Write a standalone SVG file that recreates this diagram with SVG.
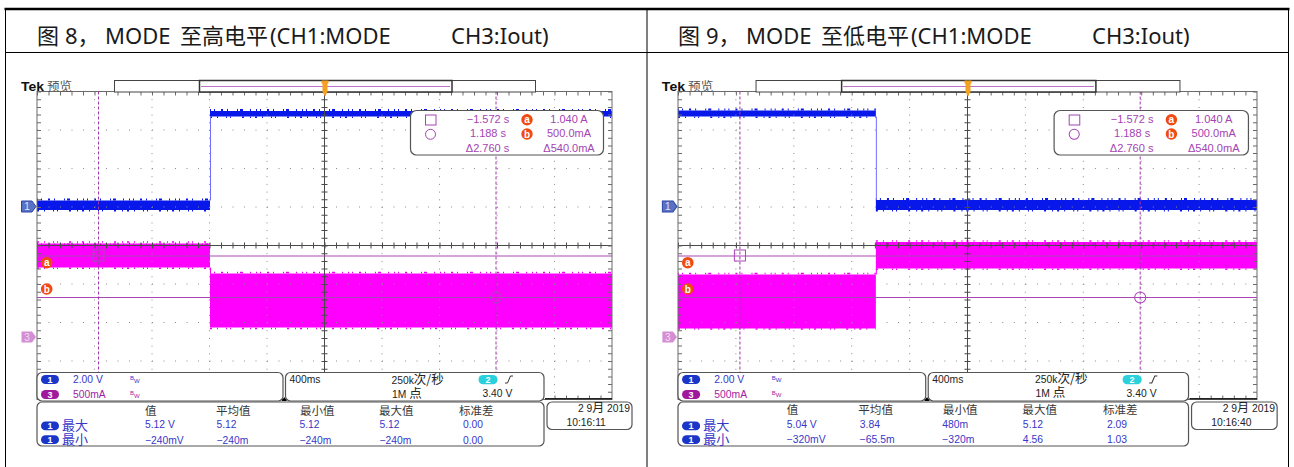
<svg xmlns="http://www.w3.org/2000/svg" width="1294" height="467" viewBox="0 0 1294 467">
<style>
.tl{font-family:'Noto Sans','Noto Sans CJK SC',sans-serif;font-size:22px;fill:#1a1a1a}
.s{font-family:'Liberation Sans','Noto Sans CJK SC',sans-serif}
.c{font-family:'Noto Sans CJK SC',sans-serif}
.cur{font-size:11px;fill:#a444b4;text-anchor:middle}
.ro{font-size:10.3px}
.bl{fill:#3737c8}
.pu{fill:#a21ca2}
.bk{fill:#222}
.hd{font-size:11.5px;fill:#383838}
.lb{font-size:13px;fill:#3737c8}
.bx{fill:#fff;stroke:#555;stroke-width:1.2}
.tb{stroke:#000;stroke-width:1;fill:none}
.c1{fill:#0818ea}
.c1n{stroke:#0818ea;fill:none}
.c3{fill:#ff00ff}
.c3n{stroke:#f000f0;fill:none}
.c3d{stroke:#c800cc;fill:none}
.nzA{stroke-dasharray:1 3 1 6 2 4 1 9 1 2 3 7 1 5}
.nzB{stroke-dasharray:2 5 1 8 1 3 1 11 2 6 1 4}
.cl{stroke:#a848b4;stroke-width:1;fill:none}
.cd{stroke:#a434ac;stroke-width:1;stroke-dasharray:3 2;fill:none}
.bd{fill:#f04a12}
.bt{font-family:'Liberation Sans',sans-serif;font-weight:bold;font-size:10px;fill:#fff;text-anchor:middle}
.pt{font-family:'Liberation Sans',sans-serif;font-weight:bold;font-size:9px;fill:#fff;text-anchor:middle}
.bw{font-size:6px}
</style>
<defs>
<g id="grat" fill="none">
 <path stroke="#8c8c8c" stroke-dasharray="1 6.7" d="M94.5 91.5V399.5M152 91.5V399.5M209.5 91.5V399.5M267 91.5V399.5M382 91.5V399.5M439.5 91.5V399.5M497 91.5V399.5M554.5 91.5V399.5"/>
 <path stroke="#8c8c8c" stroke-dasharray="1 10.5" d="M37 130H612M37 168.5H612M37 207H612M37 284H612M37 322.5H612M37 361H612"/>
 <path stroke="#4a4a4a" d="M324.5 91.5V399.5M37 245.5H612"/>
 <path stroke="#4a4a4a" stroke-width="6" stroke-dasharray="1 6.7" d="M324.5 91.5V399.5"/>
 <path stroke="#4a4a4a" stroke-width="6" stroke-dasharray="1 10.5" d="M37 245.5H612"/>
 <rect x="37" y="91.5" width="575" height="308" stroke="#6a6a6a"/>
 <path stroke="#6a6a6a" stroke-width="4" stroke-dasharray="1 6.7" d="M39 91.5V399.5M610 91.5V399.5"/>
 <path stroke="#6a6a6a" stroke-width="4" stroke-dasharray="1 10.5" d="M37 93.5H612M37 397.5H612"/>
</g>
<g id="ovl">
 <path class="cl" d="M37 256H612M37 297.5H612"/>
 <path class="cd" d="M98.5 91.5V399.5M496 91.5V399.5"/>
 <rect class="cl" x="93" y="250" width="11" height="11"/>
 <circle class="cl" cx="496" cy="297.5" r="5.5"/>
 <circle class="bd" cx="46.7" cy="262.7" r="5.8"/><text class="bt" x="46.7" y="266.3">a</text>
 <circle class="bd" cx="46.7" cy="289" r="5.8"/><text class="bt" x="46.7" y="292.6">b</text>
 <path d="M21.5 201h10.5l4 5.5-4 5.5h-10.5z" fill="#5a72c4" stroke="#2c44a8"/>
 <text class="s" x="27" y="210.3" font-size="10" fill="#dde3ff" text-anchor="middle">1</text>
 <path d="M21.5 331.5h10.5l4 5.5-4 5.5h-10.5z" fill="#d48ed4"/>
 <text class="s" x="27" y="340.8" font-size="10" fill="#f5dcf5" text-anchor="middle">3</text>
 <rect x="114.5" y="80.5" width="421" height="11.5" fill="#fff" stroke="#444"/>
 <rect x="199.5" y="80.5" width="252.5" height="11.5" fill="#fff" stroke="#333" stroke-width="1.5"/>
 <path d="M201 86.5H450" stroke="#c070c8" stroke-width="1.2"/>
 <path d="M321.5 80.5h7v2.5l-1 1v8l-2.5 4.5l-2.5-4.5v-8l-1-1z" fill="#f4a020"/>
 <text class="s" x="21" y="91" font-size="13" font-weight="bold" fill="#111" textLength="23" lengthAdjust="spacingAndGlyphs">Tek</text>
 <text class="c" x="47" y="91" font-size="12.5" fill="#555">预览</text>
 <rect class="bx" x="410.5" y="110.5" width="193" height="44.5" rx="6"/>
 <rect x="425.5" y="115" width="10.5" height="10" fill="none" stroke="#a444b4"/>
 <circle cx="430.5" cy="134.3" r="5" fill="none" stroke="#a444b4"/>
 <text class="s cur" x="488" y="123.3">−1.572 s</text>
 <text class="s cur" x="488" y="137.3">1.188 s</text>
 <text class="s cur" x="487.5" y="152">Δ2.760 s</text>
 <circle class="bd" cx="527" cy="119.8" r="5.7"/><text class="bt" x="527" y="123.4">a</text>
 <circle class="bd" cx="527" cy="134" r="5.7"/><text class="bt" x="527" y="137.6">b</text>
 <text class="s cur" x="569" y="123.3">1.040 A</text>
 <text class="s cur" x="569" y="137.3">500.0mA</text>
 <text class="s cur" x="569" y="152">Δ540.0mA</text>
 <path d="M545 398.8H612" stroke="#222" stroke-width="1.6"/>
 <rect class="bx" x="37" y="372.5" width="246" height="28.5" rx="5"/>
 <rect class="bx" x="285.5" y="372.5" width="258.5" height="28.5" rx="5"/>
 <path d="M281.5 401L284.3 397L287 401z" fill="#000"/>
 <rect class="bx" x="37" y="402" width="507" height="44" rx="5"/>
 <rect class="bx" x="547" y="402" width="85" height="27.5" rx="5"/>
 <rect x="41" y="375" width="18" height="9" rx="4.5" fill="#1a36c8"/><text class="pt" x="50" y="382.8">1</text>
 <text class="s ro bl" x="73" y="383.3">2.00 V</text>
 <text class="s bw bl" x="130" y="380">B<tspan dy="2.5">W</tspan></text>
 <rect x="41" y="390" width="18" height="9" rx="4.5" fill="#a0189c"/><text class="pt" x="50" y="397.8">3</text>
 <text class="s ro pu" x="73" y="398">500mA</text>
 <text class="s bw pu" x="130" y="395">B<tspan dy="2.5">W</tspan></text>
 <text class="s ro bk" x="289.5" y="383.3">400ms</text>
 <text class="s ro bk" x="391.5" y="383.5">250k<tspan class="c" font-size="12.5">次/秒</tspan></text>
 <text class="s ro bk" x="392" y="397.5">1M <tspan class="c" font-size="12.5">点</tspan></text>
 <rect x="478.5" y="375" width="19" height="9.3" rx="4.6" fill="#2ad0dc"/><text class="pt" x="488" y="383">2</text>
 <polyline points="505,383 507.5,383 510.5,376 513,376" fill="none" stroke="#333"/>
 <text class="s ro bk" x="482.5" y="397.3">3.40 V</text>
 <text class="c hd" x="145" y="414.5">值</text>
 <text class="c hd" x="216" y="414.5">平均值</text>
 <text class="c hd" x="300" y="414.5">最小值</text>
 <text class="c hd" x="379" y="414.5">最大值</text>
 <text class="c hd" x="459" y="414.5">标准差</text>
 <rect x="41" y="421.5" width="18" height="8.8" rx="4.4" fill="#1a36c8"/><text class="pt" x="50" y="429.2">1</text>
 <text class="c lb" x="62" y="429.8">最大</text>
 <rect x="41" y="435.3" width="18" height="8.8" rx="4.4" fill="#1a36c8"/><text class="pt" x="50" y="443">1</text>
 <text class="c lb" x="62" y="444.3">最小</text>
 <text class="s ro bk" x="630" y="412" text-anchor="end">2 9<tspan class="c" font-size="12">月</tspan> 2019</text>
</g>
</defs>
<rect x="0" y="0" width="1294" height="467" fill="#fff"/>
<g id="table">
 <path class="tb" d="M5.5 9V467M647 9V467M1288.5 9V467M5.5 52.5H1288.5"/>
 <path d="M4.5 9H1289.5" stroke="#000" stroke-width="2.5"/>
 <text class="tl" y="43.5"><tspan x="37">图 </tspan><tspan x="65">8，</tspan><tspan x="105">MODE </tspan><tspan x="180">至高电平</tspan><tspan x="270">(CH1:MODE </tspan><tspan x="451">CH3:Iout)</tspan></text>
 <text class="tl" y="43.5"><tspan x="678">图 </tspan><tspan x="706">9，</tspan><tspan x="746">MODE </tspan><tspan x="821">至低电平</tspan><tspan x="911">(CH1:MODE </tspan><tspan x="1092">CH3:Iout)</tspan></text>
</g>
<g id="scope-left">
 <g id="traces-left">
  <rect class="c1" x="37" y="200.5" width="173" height="9.5"/>
  <path class="c1n nzA" stroke-width="2" d="M37 199.5H210"/>
  <path class="c1n nzB" stroke-width="1.5" d="M37 210.8H210"/>
  <rect class="c1" x="210" y="111" width="402" height="5.5"/>
  <path class="c1n nzA" stroke-width="2" d="M210 110H612"/>
  <path class="c1n nzB" stroke-width="1.5" d="M210 117.3H612"/>
  <path d="M210.5 116.5V200.5" stroke="#7070ff"/>
  <rect class="c3" x="37" y="243.5" width="173" height="24"/>
  <path class="c3d nzA" stroke-width="2" d="M37 244.5H210"/>
  <path class="c3n nzB" stroke-width="1.5" d="M37 242H210M37 268.3H210"/>
  <rect class="c3" x="210" y="273.5" width="402" height="54"/>
  <path class="c3n nzA" stroke-width="1.5" d="M210 272.5H612"/>
  <path class="c3n nzB" stroke-width="1.5" d="M210 328.5H612"/>
  <path d="M210.5 267.5V273.5" stroke="#ff00ff"/>
 </g>
 <use href="#grat"/>
 <use href="#ovl"/>
 <g id="values-left">
  <text class="s ro bl" x="145" y="428.3">5.12 V</text>
  <text class="s ro bl" x="216.5" y="428.3">5.12</text>
  <text class="s ro bl" x="299.5" y="428.3">5.12</text>
  <text class="s ro bl" x="379.5" y="428.3">5.12</text>
  <text class="s ro bl" x="463" y="428.3">0.00</text>
  <text class="s ro bl" x="145" y="443.5">−240mV</text>
  <text class="s ro bl" x="216.5" y="443.5">−240m</text>
  <text class="s ro bl" x="299.5" y="443.5">−240m</text>
  <text class="s ro bl" x="379.5" y="443.5">−240m</text>
  <text class="s ro bl" x="463" y="443.5">0.00</text>
  <text class="s ro bk" x="566.5" y="426">10:16:11</text>
 </g>
</g>
<g id="scope-right" transform="matrix(1.00696 0 0 1 640.74 0)">
 <g id="traces-right">
  <rect class="c1" x="37" y="110.5" width="196.5" height="6"/>
  <path class="c1n nzA" stroke-width="2" d="M37 109.5H233.5"/>
  <path class="c1n nzB" stroke-width="1.5" d="M37 117.3H233.5"/>
  <rect class="c1" x="233.5" y="200" width="378.5" height="10"/>
  <path class="c1n nzA" stroke-width="2" d="M233.5 199H612"/>
  <path class="c1n nzB" stroke-width="1.5" d="M233.5 210.8H612"/>
  <path d="M234 116.5V200" stroke="#7070ff"/>
  <rect class="c3" x="37" y="274.5" width="196.5" height="54"/>
  <path class="c3n nzA" stroke-width="1.5" d="M37 273.5H233.5"/>
  <path class="c3n nzB" stroke-width="1.5" d="M37 329H233.5"/>
  <rect class="c3" x="233.5" y="242" width="378.5" height="26.5"/>
  <path class="c3d nzA" stroke-width="2" d="M233.5 244.3H612"/>
  <path class="c3n nzB" stroke-width="1.5" d="M233.5 241H612M233.5 269.2H612"/>
  <path d="M234 268V274.5" stroke="#ff00ff"/>
 </g>
 <use href="#grat"/>
 <use href="#ovl"/>
 <g id="values-right">
  <text class="s ro bl" x="145" y="428.3">5.04 V</text>
  <text class="s ro bl" x="217.5" y="428.3">3.84</text>
  <text class="s ro bl" x="299.5" y="428.3">480m</text>
  <text class="s ro bl" x="379.5" y="428.3">5.12</text>
  <text class="s ro bl" x="463" y="428.3">2.09</text>
  <text class="s ro bl" x="145" y="443.5">−320mV</text>
  <text class="s ro bl" x="217.5" y="443.5">−65.5m</text>
  <text class="s ro bl" x="299.5" y="443.5">−320m</text>
  <text class="s ro bl" x="379.5" y="443.5">4.56</text>
  <text class="s ro bl" x="463" y="443.5">1.03</text>
  <text class="s ro bk" x="566.5" y="426">10:16:40</text>
 </g>
</g>
</svg>
